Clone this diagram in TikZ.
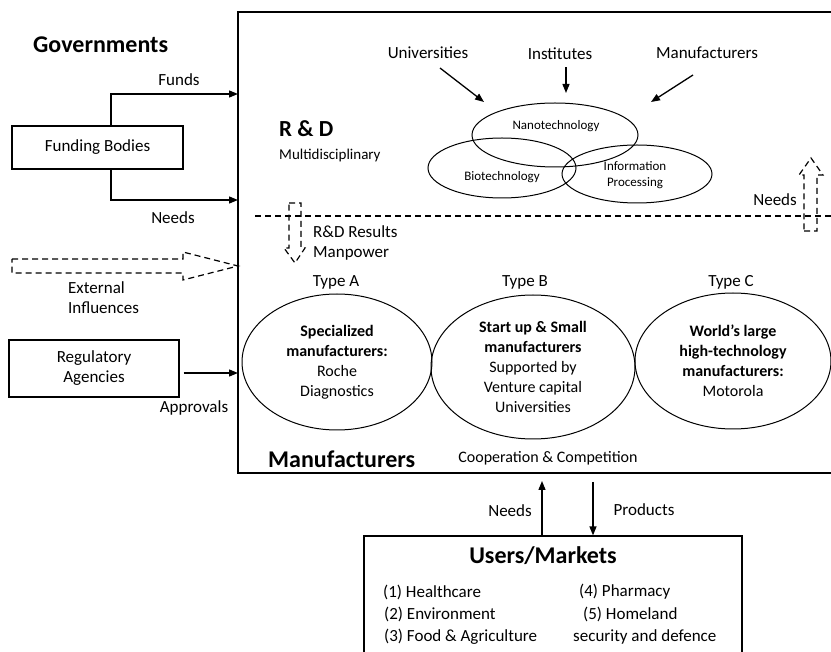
\documentclass[tikz,border=0pt]{standalone}
\usepackage{fontspec}
\setmainfont{Carlito}
\usetikzlibrary{shapes.geometric, arrows.meta}

\begin{document}
\begin{tikzpicture}[x=1pt, y=-1pt,
  txt/.style={font=\fontsize{17}{20}\selectfont, inner sep=0pt, align=center},
  small/.style={font=\fontsize{13}{16}\selectfont, inner sep=0pt, align=center},
  head/.style={font=\fontsize{24}{28}\selectfont\bfseries, inner sep=0pt},
  box/.style={draw, line width=1.2pt, inner sep=0pt},
  oval/.style={draw, ellipse, line width=1pt, inner sep=0pt, align=center, font=\fontsize{16}{20}\selectfont},
  arr/.style={-{Triangle[length=9pt,width=7pt]}, line width=1.3pt},
  dashline/.style={dash pattern=on 6pt off 4pt, line width=1.2pt}]
\useasboundingbox (0,0) rectangle (831,652);

% Manufacturers frame (open at the right)
\coordinate (mtl) at (238,12);
\coordinate (mbl) at (238,473);
\draw[line width=1.6pt] (831,12) -- (mtl) -- (mbl) -- (831,473);

% Governments
\node[head, anchor=west] (gov) at (33,45) {Governments};
\node[box, txt, minimum width=171pt, minimum height=43pt] (fund) at (97.5,147.5) {Funding Bodies};
\coordinate (fundsin) at (238,94);
\coordinate (needsin) at (238,200);
\draw[arr] ([xshift=13.5pt]fund.north) |- (fundsin);
\draw[arr] ([xshift=13.5pt]fund.south) |- (needsin);
\node[txt] (funds) at (179,80) {Funds};
\node[txt] (needsl) at (173,218) {Needs};

% External influences
\coordinate (extin) at (238,266);
\draw[dashline] (12,259) -- (183,259) -- (183,252) -- (extin) -- (183,280) -- (183,273) -- (12,273) -- cycle;
\node[txt, anchor=west, align=left] (ext) at (68,298) {External\\Influences};

% Regulatory agencies
\node[box, txt, minimum width=170pt, minimum height=57pt] (reg) at (94,368.5) {Regulatory\\Agencies};
\coordinate (appin) at (238,373);
\draw[arr, shorten <=4pt] (reg.east |- appin) -- (appin);
\node[txt] (appr) at (194,408) {Approvals};

% R&D
\node[font=\fontsize{23}{28}\selectfont\bfseries, inner sep=0pt, anchor=west] (rd) at (279,129) {R \& D};
\node[font=\fontsize{15}{18}\selectfont, inner sep=0pt, anchor=west] (multi) at (279,156) {Multidisciplinary};
\node[txt] (univ) at (428,53) {Universities};
\node[txt] (inst) at (560,54) {Institutes};
\node[txt] (manu) at (707,53) {Manufacturers};

\node[oval, minimum width=166pt, minimum height=64pt] (nano) at (555,135) {};
\node[oval, minimum width=148pt, minimum height=60pt] (bio) at (502,168) {};
\node[oval, minimum width=150pt, minimum height=58pt] (info) at (637,174) {};
\node[small] (nanot) at (556,126) {Nanotechnology};
\node[small] (biot) at (502,177) {Biotechnology};
\node[small] (infot) at (635,175) {Information\\Processing};

\coordinate (univtail) at (440,68);
\coordinate (univtip) at (484,102);
\coordinate (insttip) at (566,93);
\coordinate (manutail) at (693,75);
\coordinate (manutip) at (651,102);
\draw[arr] (univtail) -- (univtip);
\draw[arr, shorten <=7pt] (inst.south -| insttip) -- (insttip);
\draw[arr] (manutail) -- (manutip);

% Divider and exchanges
\coordinate (divl) at (255,216);
\draw[dashline] (divl) -- (831,216);
\draw[dashline] (289,203) -- (301,203) -- (301,248) -- (305,248) -- (295,263) -- (284,248) -- (289,248) -- cycle;
\node[txt, anchor=west, align=left] (res) at (313,243) {R\&D Results\\Manpower};
\draw[dashline] (804,231) -- (817,231) -- (817,175) -- (823,175) -- (811,158) -- (799,175) -- (804,175) -- cycle;
\node[txt, anchor=east] (needsr) at (797,200) {Needs};

% Manufacturer types
\node[txt] (ta) at (336,282) {Type A};
\node[txt] (tb) at (525,282) {Type B};
\node[txt] (tc) at (731,282) {Type C};
\node[oval, minimum width=190pt, minimum height=136pt] (ea) at (337,362)
  {\textbf{Specialized}\\\textbf{manufacturers:}\\Roche\\Diagnostics};
\node[oval, minimum width=204pt, minimum height=144pt] (eb) at (533,367)
  {\textbf{Start up \& Small}\\\textbf{manufacturers}\\Supported by\\Venture capital\\Universities};
\node[oval, minimum width=196pt, minimum height=136pt] (ec) at (733,361)
  {\textbf{World’s large}\\\textbf{high-technology}\\\textbf{manufacturers:}\\Motorola};
\node[head, anchor=west] (manuf) at (268,459) {Manufacturers};
\node[font=\fontsize{16}{20}\selectfont, inner sep=0pt] (coop) at (548,458) {Cooperation \& Competition};

% Users / markets
\node[box, minimum width=378pt, minimum height=150pt] (users) at (553,611) {};
\node[head] (ut) at (543,556) {Users/Markets};
\node[txt, anchor=west] (u1) at (383,592) {(1) Healthcare};
\node[txt, anchor=west] (u2) at (384,614) {(2) Environment};
\node[txt, anchor=west] (u3) at (384,637) {(3) Food \& Agriculture};
\node[txt, anchor=west] (u4) at (579,592) {(4) Pharmacy};
\node[txt, anchor=west] (u5) at (583,614) {(5) Homeland};
\node[txt, anchor=west] (u6) at (573,637) {security and defence};

\coordinate (needsx) at (542,481);
\coordinate (prodx) at (593,482);
\draw[arr] (users.north -| needsx) -- (needsx);
\draw[arr] (prodx) -- (prodx |- users.north);
\node[txt] (needsb) at (510,511) {Needs};
\node[txt] (prod) at (644,510) {Products};
\end{tikzpicture}
\end{document}
